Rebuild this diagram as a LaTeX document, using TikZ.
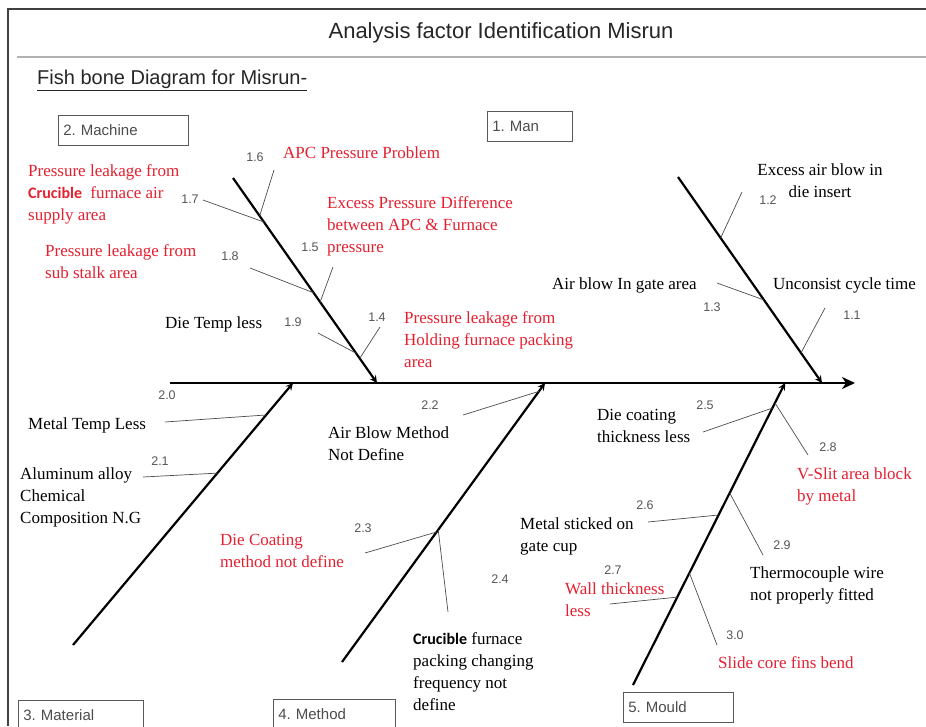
\documentclass[tikz,border=0pt]{standalone}
\usepackage{fontspec}
\setmainfont{Liberation Serif}
\newfontfamily\headfont{Liberation Sans}
\newfontfamily\cruciblefont{Carlito}
\usetikzlibrary{calc,arrows.meta}
\frenchspacing

\definecolor{causered}{RGB}{228,32,48}
\definecolor{numgray}{RGB}{85,85,85}

\newcommand{\crucible}{{\cruciblefont\bfseries\fontsize{16}{22}\selectfont Crucible}}

\tikzset{
  bone/.style={line width=2.2pt},
  rib/.style={line width=0.7pt,black!70},
  numlabel/.style={font=\headfont\fontsize{12.5}{13}\selectfont,text=numgray,inner sep=0pt},
  cause/.style={font=\fontsize{17}{22}\selectfont,align=left,inner sep=0pt,anchor=north west},
  redcause/.style={cause,text=causered},
  catbox/.style={draw=black!65,line width=0.8pt,anchor=north west,minimum height=30pt,
    text width=#1,align=left,inner xsep=5pt,font=\headfont\fontsize{15}{15}\selectfont,text=black!70}
}

\begin{document}
\begin{tikzpicture}[x=1pt,y=-1pt,>=stealth]
\useasboundingbox (0,0) rectangle (926,726);

% frame and heading
\draw[black!75,line width=1.6pt] (8,726) -- (8,9) -- (926,9);
\draw[black!30,line width=2.6pt] (17,57) -- (926,57);
\node[font=\headfont\fontsize{22}{22}\selectfont,text=black!85] (title) at (501,33) {Analysis factor Identification Misrun};
\node[font=\headfont\fontsize{20}{20}\selectfont,text=black!85,anchor=west,inner sep=0pt] (subtitle) at (37,80) {\underline{Fish bone Diagram for Misrun-}};

% category boxes
\node[catbox=120pt] (machine) at (58,115) {2. Machine};
\node[catbox=75pt] (man) at (487,111) {1. Man};
\node[catbox=115pt] (material) at (18,700) {3. Material};
\node[catbox=112pt] (method) at (273,699) {4. Method};
\node[catbox=100pt] (mould) at (623,692) {5. Mould};

% spine and main bones
\coordinate (tail) at (170,383);
\coordinate (head) at (855,383);
\coordinate (mcA) at (233,178); \coordinate (mcB) at (377,383);
\coordinate (mnA) at (678,177); \coordinate (mnB) at (822,383);
\coordinate (mtA) at (73,645);  \coordinate (mtB) at (293,383);
\coordinate (mdA) at (342,662); \coordinate (mdB) at (545,383);
\coordinate (mlA) at (633,685); \coordinate (mlB) at (785,383);

\draw[bone,-{Stealth[length=13pt,width=12pt,inset=4pt]}] (tail) -- (head);
\foreach \bn in {mc,mn,mt,md,ml}
  \draw[bone,->] (\bn A) -- (\bn B);

% free ends of the small ribs
\foreach \f/\x/\y in {f16/274/170, f17/203/200, f18/250/268, f15/333/267, f19/318/333, f14/380/327,
  f12/742/192, f13/717/283, f11/825/308,
  f20/165/422, f21/143/477,
  f22/463/415, f23/365/553, f24/448/612,
  f25/703/432, f28/808/455, f26/648/522, f29/763/555, f27/610/604, f30/717/645}
  \coordinate (\f) at (\x,\y);

% ribs
\foreach \bn/\t/\f in {mc/0.185/f16, mc/0.215/f17, mc/0.56/f18, mc/0.605/f15, mc/0.855/f19, mc/0.88/f14,
  mn/0.296/f12, mn/0.597/f13, mn/0.854/f11,
  mt/0.878/f20, mt/0.656/f21,
  md/0.97/f22, md/0.466/f23, md/0.474/f24,
  ml/0.917/f25, ml/0.934/f28, ml/0.563/f26, ml/0.636/f29, ml/0.291/f27, ml/0.371/f30}
  \draw[rib] ($(\bn A)!\t!(\bn B)$) -- (\f);

% rib numbers
\foreach \n/\txt/\x/\y in {16/1.6/255/157, 17/1.7/190/199, 18/1.8/230/256, 15/1.5/310/247, 19/1.9/293/322, 14/1.4/377/317,
  12/1.2/768/200, 13/1.3/712/307, 11/1.1/852/315,
  20/2.0/167/395, 21/2.1/160/461,
  22/2.2/430/405, 23/2.3/363/528, 24/2.4/500/579,
  25/2.5/705/405, 28/2.8/828/447, 26/2.6/645/505, 29/2.9/782/545, 27/2.7/613/570, 30/3.0/735/635}
  \node[numlabel] (n\n) at (\x,\y) {\txt};

% machine causes
\node[redcause] (apc) at (283,147) {APC Pressure Problem};
\node[redcause] (leakair) at (28,164) {Pressure leakage from\\\crucible\hspace{4pt} furnace air\\supply area};
\node[redcause] (leakstalk) at (45,244) {Pressure leakage from\\sub stalk area};
\node[redcause] (pdiff) at (327,196) {Excess Pressure Difference\\between APC \& Furnace\\pressure};
\node[cause] (dietemp) at (165,316) {Die Temp less};
\node[redcause] (leakhold) at (404,311) {Pressure leakage from\\Holding furnace packing\\area};

% man causes
\node[cause,align=center,anchor=north] (airdie) at (820,164) {Excess air blow in\\die insert};
\node[cause] (airgate) at (552,277) {Air blow In gate area};
\node[cause] (cycle) at (773,277) {Unconsist cycle time};

% material causes
\node[cause] (metaltemp) at (28,417) {Metal Temp Less};
\node[cause] (alloy) at (20,467) {Aluminum alloy\\Chemical\\Composition N.G};

% method causes
\node[cause] (airmethod) at (328,426) {Air Blow Method\\Not Define};
\node[redcause] (coatmethod) at (220,534) {Die Coating\\method not define};
\node[cause] (packing) at (413,632) {\crucible\ furnace\\packing changing\\frequency not\\define};

% mould causes
\node[cause] (coatthick) at (597,409) {Die coating\\thickness less};
\node[redcause] (vslit) at (797,467) {V-Slit area block\\by metal};
\node[cause] (gatecup) at (520,517) {Metal sticked on\\gate cup};
\node[cause] (thermo) at (750,566) {Thermocouple wire\\not properly fitted};
\node[redcause] (wall) at (565,582) {Wall thickness\\less};
\node[redcause] (slide) at (718,656) {Slide core fins bend};

\end{tikzpicture}
\end{document}
